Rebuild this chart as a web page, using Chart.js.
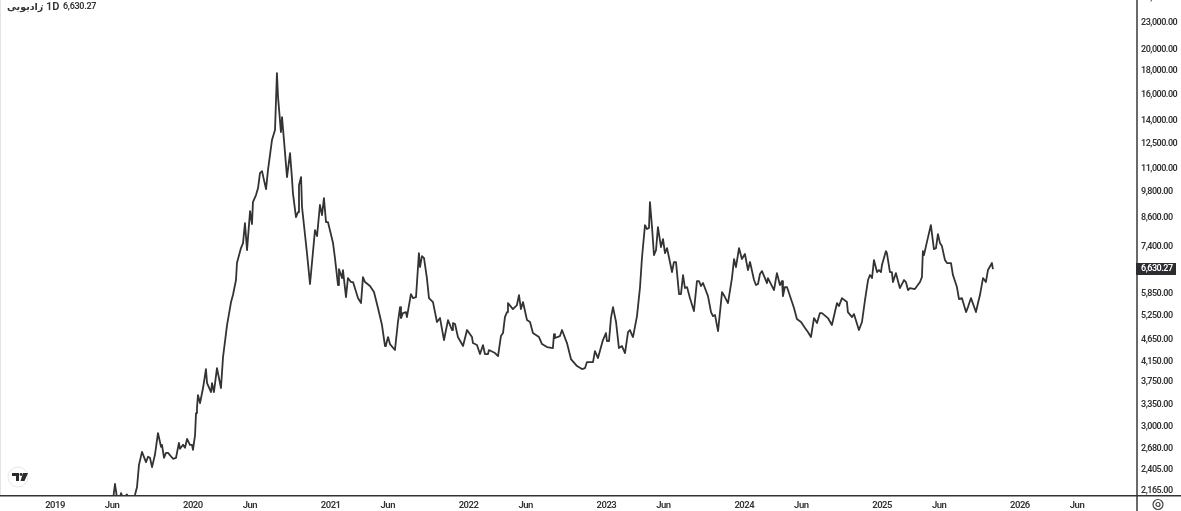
<!DOCTYPE html>
<html>
<head>
<meta charset="utf-8">
<title>رادیویی 1D</title>
<script src="https://cdn.jsdelivr.net/npm/chart.js@4"></script>
<style>
    html, body { margin: 0; padding: 0; background: #fff; overflow: hidden; width: 1181px; height: 511px; }
    #tsChart { position: absolute; left: 0; top: -2px; filter: blur(0.3px); }
    #leftEdge { position: absolute; left: 0; top: 0; width: 1px; height: 495px; background: #e4e4e4; }
    .head { position: absolute; top: 1px; font: 600 9px Roboto, sans-serif; letter-spacing: -0.3px; color: #333; line-height: 11px; white-space: nowrap; }
    #logo { position: absolute; left: 7px; top: 466px; }
    #gear { position: absolute; left: 1151px; top: 498px; }
</style>
</head>
<body>
<canvas id="tsChart" width="1181" height="513"></canvas>
<div id="leftEdge"></div>
<div class="head" style="left:7px;font-family:'DejaVu Sans',sans-serif;font-size:9.5px;letter-spacing:0">رادیویی</div>
<div class="head" style="left:41px">·</div>
<div class="head" style="left:46px;font-size:11px;letter-spacing:0">1D</div>
<div class="head" style="left:63px" id="lastLabel"></div>
<svg id="logo" width="22" height="22" viewBox="0 0 22 22">
    <circle cx="11" cy="11" r="10" fill="#fff" stroke="#e6e6e6"/>
    <path d="M5 7h7v8h-3v-5H5z M16 7h5l-3.500 8h-4z" fill="#2b2b2b"/>
    <circle cx="14" cy="8.500" r="1.400" fill="#2b2b2b"/>
</svg>
<svg id="gear" width="14" height="13" viewBox="0 0 14 13">
    <circle cx="7" cy="6.500" r="5" fill="none" stroke="#444" stroke-width="1.200"/>
    <circle cx="7" cy="6.500" r="2" fill="none" stroke="#444" stroke-width="1.200"/>
</svg>
<script>
// time position as decimal year
const times = [
    2019.421, 2019.435, 2019.450, 2019.472, 2019.479, 2019.493, 2019.522, 2019.537, 2019.573, 2019.580,
    2019.595, 2019.609, 2019.631, 2019.660, 2019.675, 2019.689, 2019.704, 2019.725, 2019.747, 2019.769,
    2019.776, 2019.791, 2019.805, 2019.820, 2019.856, 2019.878, 2019.899, 2019.907, 2019.929, 2019.943,
    2019.958, 2019.979, 2019.994, 2020.001, 2020.016, 2020.023, 2020.030, 2020.037, 2020.052, 2020.074,
    2020.095, 2020.103, 2020.132, 2020.139, 2020.153, 2020.175, 2020.204, 2020.219, 2020.248, 2020.277,
    2020.291, 2020.313, 2020.320, 2020.349, 2020.364, 2020.378, 2020.393, 2020.415, 2020.429, 2020.436,
    2020.458, 2020.473, 2020.487, 2020.502, 2020.516, 2020.531, 2020.545, 2020.574, 2020.596, 2020.610,
    2020.618, 2020.639, 2020.647, 2020.661, 2020.683, 2020.705, 2020.719, 2020.726, 2020.748, 2020.763,
    2020.770, 2020.785, 2020.792, 2020.828, 2020.850, 2020.886, 2020.901, 2020.922, 2020.937, 2020.951,
    2020.966, 2020.980, 2021.017, 2021.031, 2021.053, 2021.060, 2021.082, 2021.089, 2021.111, 2021.125,
    2021.147, 2021.162, 2021.198, 2021.220, 2021.234, 2021.249, 2021.285, 2021.314, 2021.343, 2021.372,
    2021.394, 2021.401, 2021.416, 2021.430, 2021.466, 2021.488, 2021.503, 2021.510, 2021.524, 2021.546,
    2021.553, 2021.582, 2021.597, 2021.619, 2021.640, 2021.648, 2021.662, 2021.677, 2021.698, 2021.713,
    2021.742, 2021.771, 2021.793, 2021.822, 2021.851, 2021.880, 2021.887, 2021.902, 2021.923, 2021.960,
    2021.989, 2022.025, 2022.032, 2022.061, 2022.083, 2022.105, 2022.119, 2022.141, 2022.148, 2022.192,
    2022.214, 2022.235, 2022.250, 2022.264, 2022.279, 2022.286, 2022.322, 2022.351, 2022.366, 2022.380,
    2022.395, 2022.424, 2022.446, 2022.467, 2022.511, 2022.533, 2022.569, 2022.612, 2022.620, 2022.627,
    2022.663, 2022.678, 2022.714, 2022.743, 2022.787, 2022.823, 2022.845, 2022.859, 2022.903, 2022.917,
    2022.939, 2022.975, 2022.997, 2023.004, 2023.019, 2023.033, 2023.048, 2023.070, 2023.091, 2023.113,
    2023.135, 2023.157, 2023.171, 2023.186, 2023.193, 2023.222, 2023.244, 2023.258, 2023.280, 2023.295,
    2023.309, 2023.316, 2023.331, 2023.345, 2023.360, 2023.374, 2023.396, 2023.411, 2023.425, 2023.440,
    2023.461, 2023.476, 2023.490, 2023.505, 2023.527, 2023.541, 2023.556, 2023.570, 2023.585, 2023.606,
    2023.635, 2023.657, 2023.672, 2023.686, 2023.701, 2023.737, 2023.759, 2023.773, 2023.788, 2023.810,
    2023.839, 2023.860, 2023.882, 2023.911, 2023.926, 2023.940, 2023.962, 2023.983, 2024.005, 2024.027,
    2024.042, 2024.071, 2024.085, 2024.100, 2024.114, 2024.129, 2024.165, 2024.172, 2024.216, 2024.237,
    2024.259, 2024.274, 2024.281, 2024.295, 2024.310, 2024.361, 2024.382, 2024.412, 2024.441, 2024.462,
    2024.484, 2024.506, 2024.528, 2024.549, 2024.564, 2024.607, 2024.636, 2024.673, 2024.687, 2024.709,
    2024.745, 2024.752, 2024.782, 2024.796, 2024.832, 2024.854, 2024.876, 2024.898, 2024.912, 2024.927,
    2024.941, 2024.963, 2024.977, 2024.992, 2024.999, 2025.028, 2025.035, 2025.057, 2025.071, 2025.079,
    2025.100, 2025.129, 2025.159, 2025.173, 2025.188, 2025.202, 2025.238, 2025.275, 2025.289, 2025.296,
    2025.304, 2025.325, 2025.354, 2025.376, 2025.391, 2025.405, 2025.420, 2025.434, 2025.456, 2025.471,
    2025.500, 2025.514, 2025.543, 2025.558, 2025.579, 2025.609, 2025.623, 2025.645, 2025.681, 2025.696,
    2025.710, 2025.732, 2025.753, 2025.768, 2025.797, 2025.804
];

const prices = [
    2069, 2243, 2090, 2090, 2143, 2090, 2127, 2090, 2090, 2122,
    2209, 2467, 2638, 2505, 2573, 2560, 2442, 2599, 2900, 2706,
    2733, 2560, 2625, 2625, 2547, 2560, 2760, 2679, 2733, 2692,
    2815, 2733, 2733, 2665, 2871, 3207, 3289, 3512, 3374, 3639,
    4004, 3731, 3566, 3731, 3566, 4024, 3639, 4254, 4999, 5613,
    5815, 6272, 6833, 7369, 7557, 8360, 7295, 8880, 8318, 9293,
    9628, 9971, 10753, 10863, 10381, 9923, 10918, 12701, 13357, 17803,
    15784, 13224, 14260, 12701, 10540, 11895, 10486, 9725, 8616, 8835,
    10120, 10540, 9065, 7187, 6147, 8069, 7829, 9157, 8703, 9483,
    8401, 8401, 7557, 7008, 6116, 6630, 6335, 6596, 5756, 6335,
    6209, 6209, 5727, 5585, 6367, 6209, 6085, 5903, 5446, 4999,
    4497, 4519, 4705, 4542, 4407, 5076, 5473, 5178, 5310, 5337,
    5204, 5844, 5727, 5756, 7187, 6697, 7079, 7008, 6335, 5727,
    5613, 5076, 5178, 4635, 5126, 4875, 5050, 5025, 4705, 4497,
    4875, 4705, 4565, 4519, 4319, 4519, 4319, 4319, 4407, 4341,
    4275, 4729, 4801, 5204, 5337, 5585, 5418, 5529, 5815, 5418,
    5613, 5126, 5076, 4801, 4705, 4542, 4474, 4452, 4777, 4682,
    4729, 4875, 4565, 4211, 4065, 4004, 4024, 4148, 4148, 4385,
    4232, 4635, 4801, 4611, 4611, 5178, 5473, 5076, 4452, 4497,
    4341, 4826, 4875, 4753, 4705, 5230, 6054, 7008, 8276, 8110,
    8151, 9293, 8192, 7115, 7295, 8192, 7406, 7711, 7187, 7369,
    6868, 6530, 6868, 6868, 5844, 5844, 6432, 6024, 6054, 5727,
    5364, 6240, 6240, 6085, 6178, 5785, 5337, 5230, 5257, 4850,
    5903, 5756, 5585, 6335, 6972, 6697, 7369, 6972, 7151, 6596,
    6868, 6272, 6116, 6147, 6465, 6562, 6178, 6335, 5963, 6497,
    6116, 6240, 5785, 6054, 6054, 5446, 5152, 5076, 4924, 4826,
    4705, 5178, 5050, 5310, 5310, 5178, 4999, 5585, 5501, 5727,
    5613, 5337, 5204, 5283, 4875, 5076, 5670, 6272, 6432, 6335,
    6937, 6530, 6596, 6530, 6765, 7258, 7187, 6530, 6530, 6209,
    6497, 6024, 6272, 6209, 5963, 6024, 5993, 6209, 6367, 7258,
    7115, 7595, 8276, 7332, 7369, 7909, 7557, 7444, 6937, 6833,
    6833, 6432, 6054, 5699, 5727, 5337, 5473, 5727, 5337, 5585,
    5815, 6335, 6209, 6596, 6833, 6630
];

const priceTicks = [26000, 23000, 20000, 18000, 16000, 14000, 12500, 11000, 9800, 8600, 7400,
    5850, 5250, 4650, 4150, 3750, 3350, 3000, 2680, 2405, 2165];

const timeTicks = [2019, 2019.414, 2020, 2020.414, 2021, 2021.414, 2022, 2022.414,
    2023, 2023.414, 2024, 2024.414, 2025, 2025.414, 2026, 2026.414];
const timeLabels = ["2019", "Jun", "2020", "Jun", "2021", "Jun", "2022", "Jun",
    "2023", "Jun", "2024", "Jun", "2025", "Jun", "2026", "Jun"];

const lastPrice = 6630.27;
const axisFont = "Roboto, sans-serif";

function money(v) {
    return v.toLocaleString("en-US", { minimumFractionDigits: 2, maximumFractionDigits: 2 });
}

document.getElementById("lastLabel").textContent = money(lastPrice);

const axisLines = {
    id: "axisLines",
    beforeLayout(c) {
        // reference text is squeezed, no narrow font is installed
        c.ctx.letterSpacing = "-0.5px";
    },
    beforeDraw(c) {
        c.ctx.letterSpacing = "-0.5px";
    },
    afterDraw(c) {
        const g = c.ctx;
        const area = c.chartArea;
        const ty = c.scales.y.getPixelForValue(lastPrice);
        g.save();
        g.fillStyle = "#6a6a6a";
        g.fillRect(area.right, 0, 2, 513);
        g.fillStyle = "#333";
        g.fillRect(0, area.bottom, 1181, 1.5);
        g.fillStyle = "#2b2d30";
        g.fillRect(area.right, Math.round(ty) - 6, 40, 12);
        g.fillStyle = "#fff";
        g.font = "600 9px " + axisFont;
        g.textBaseline = "middle";
        g.fillText(money(lastPrice), area.right + 5, ty);
        g.restore();
    }
};

new Chart(document.getElementById("tsChart"), {
    type: "line",
    data: {
        datasets: [{
            data: times.map((t, i) => ({ x: t, y: prices[i] })),
            borderColor: "#333",
            borderWidth: 1.8,
            borderJoinStyle: "round",
            pointRadius: 0,
            tension: 0
        }]
    },
    options: {
        responsive: false,
        animation: false,
        layout: { padding: 0 },
        plugins: { legend: { display: false }, tooltip: { enabled: false } },
        scales: {
            x: {
                type: "linear",
                min: 2018.601,
                max: 2026.842,
                grid: { display: false, drawTicks: false },
                border: { display: false },
                afterBuildTicks: s => { s.ticks = timeTicks.map(v => ({ value: v })); },
                afterFit: s => { s.height = 16; s.paddingLeft = 0; s.paddingRight = 0; },
                ticks: {
                    autoSkip: false,
                    maxRotation: 0,
                    padding: 5,
                    color: "#333",
                    font: { family: axisFont, size: 9.5, weight: "600" },
                    callback: (v, i) => timeLabels[i]
                }
            },
            y: {
                type: "logarithmic",
                position: "right",
                min: 2122,
                max: 26000,
                grid: { display: false, drawTicks: false },
                border: { display: false },
                afterBuildTicks: s => { s.ticks = priceTicks.map(v => ({ value: v })); },
                afterFit: s => { s.width = 45; s.paddingTop = 0; s.paddingBottom = 0; },
                ticks: {
                    autoSkip: false,
                    padding: 5,
                    color: "#333",
                    font: { family: axisFont, size: 9, weight: "600" },
                    callback: v => money(v)
                }
            }
        }
    },
    plugins: [axisLines]
});
</script>
</body>
</html>
